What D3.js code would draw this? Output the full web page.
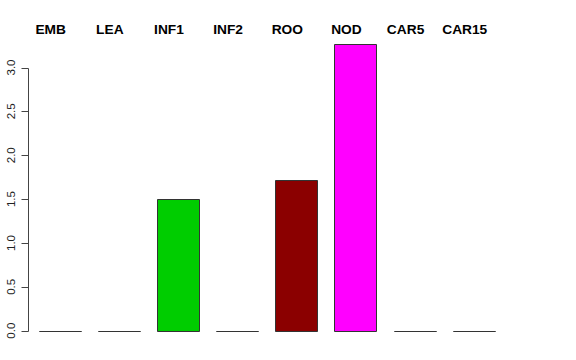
<!DOCTYPE html>
<html>
<head>
<meta charset="utf-8">
<script src="https://cdn.jsdelivr.net/npm/d3@7"></script>
<style>
  html, body { margin: 0; padding: 0; background: #fff; }
  svg { display: block; }
</style>
</head>
<body>
<div id="chart"></div>
<script>
const categories = ["EMB", "LEA", "INF1", "INF2", "ROO", "NOD", "CAR5", "CAR15"];
const values = [0, 0, 1.50, 0, 1.72, 3.27, 0, 0];
const barColors = ["#BEBEBE", "#BEBEBE", "#00CD00", "#BEBEBE", "#8B0000", "#FF00FF", "#BEBEBE", "#BEBEBE"];
const yTicks = [0, 0.5, 1.0, 1.5, 2.0, 2.5, 3.0];
const yTickLabels = ["0.0", "0.5", "1.0", "1.5", "2.0", "2.5", "3.0"];

const W = 576, H = 360;
const svg = d3.select("#chart").append("svg").attr("width", W).attr("height", H);

const x = d3.scaleBand().domain(categories)
  .range([30.1, 30.1 + 8 * 59.15])
  .paddingInner(0.29).paddingOuter(0.145);
const y = d3.scaleLinear().domain([0, 3]).range([330.7, 67.5]);

// bars (paths so zero-height bars still stroke)
svg.append("g").selectAll("path").data(categories).join("path")
  .attr("d", (c, i) => {
    const x0 = Math.round(x(c)) + 0.5, x1 = Math.round(x(c) + x.bandwidth()) + 0.5;
    const y0 = Math.round(y(0)) + 0.5, y1 = Math.round(y(values[i])) + 0.5;
    return `M${x0},${y0}H${x1}V${y1}H${x0}Z`;
  })
  .attr("fill", (c, i) => barColors[i])
  .attr("stroke", "#333")
  .attr("stroke-width", 1);

// y axis
const axisX = 28.5;
const ax = svg.append("g");
ax.append("line")
  .attr("x1", axisX).attr("x2", axisX)
  .attr("y1", Math.round(y(0)) + 0.5).attr("y2", Math.round(y(3)) + 0.5)
  .attr("stroke", "#444").attr("stroke-width", 1);
ax.selectAll("line.tick").data(yTicks).join("line")
  .attr("class", "tick")
  .attr("x1", axisX - 7).attr("x2", axisX)
  .attr("y1", d => Math.round(y(d)) + 0.5).attr("y2", d => Math.round(y(d)) + 0.5)
  .attr("stroke", "#444").attr("stroke-width", 1);
ax.selectAll("text").data(yTicks).join("text")
  .attr("transform", d => `translate(14.5,${y(d)}) rotate(-90)`)
  .attr("text-anchor", "middle")
  .attr("font-family", "Liberation Sans, Arial, sans-serif")
  .attr("font-size", 11.5)
  .attr("fill", "#222")
  .text((d, i) => yTickLabels[i]);

// category labels at top
svg.append("g").selectAll("text").data(categories).join("text")
  .attr("transform", c => `translate(${x(c) + x.bandwidth() / 2 - 9},34) scale(1.1,1)`)
  .attr("text-anchor", "middle")
  .attr("font-family", "Liberation Sans, Arial, sans-serif")
  .attr("font-weight", "bold")
  .attr("font-size", 12.5)
  .attr("fill", "#000")
  .text(c => c);
</script>
</body>
</html>
